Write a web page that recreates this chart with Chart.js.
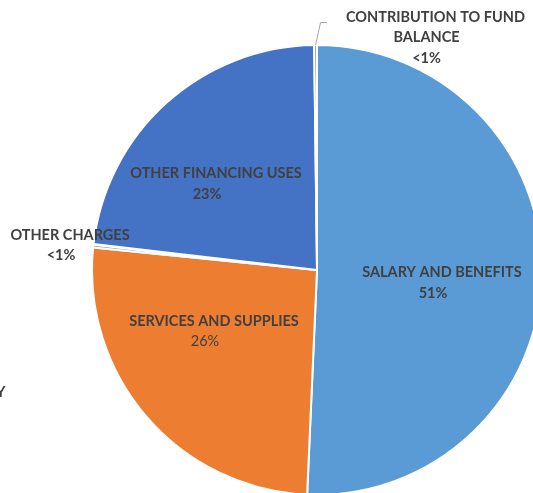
<!DOCTYPE html>
<html>
<head>
<meta charset="utf-8">
<script src="https://cdn.jsdelivr.net/npm/chart.js@4"></script>
<style>
    html, body { margin: 0; padding: 0; background: #fff; overflow: hidden; }
    #wrap { position: relative; width: 533px; height: 493px; }
</style>
</head>
<body>
<div id="wrap"><canvas id="graficoDespesas"></canvas></div>
<script>
// Categorias de despesa e participação (%) no orçamento
const categorias = [
    'SALARY AND BENEFITS',
    'SERVICES AND SUPPLIES',
    'OTHER CHARGES',
    'APPROPRIATION FOR CONTINGENCY',
    'OTHER FINANCING USES',
    'CONTRIBUTION TO FUND BALANCE'
];
const valores = [50.7, 25.9, 0.2, 0.05, 22.95, 0.2];

// Texto dos rótulos, já quebrado em linhas
const rotulos = [
    ['SALARY AND BENEFITS'],
    ['SERVICES AND SUPPLIES'],
    ['OTHER CHARGES'],
    ['APPROPRIATION FOR CONTINGENCY'],
    ['OTHER FINANCING USES'],
    ['CONTRIBUTION TO FUND', 'BALANCE']
];

const cores = ['#5B9BD5', '#ED7D31', '#A5A5A5', '#FFC000', '#4472C4', '#70AD47'];

// Posição de cada rótulo em relação ao centro da pizza
const posRotulos = [
    { dx: 125, dy: 2.5 },
    { dx: -103, dy: 51, pctNormal: true },
    { dx: -247, dy: -35 },
    { dx: -311.5, dy: 122, alinhar: 'right' },
    { dx: -101, dy: -96.5 },
    { dx: 118.5, dy: -253, guia: true }
];

const corTexto = '#404040';
const fonte = 'Lato, "Open Sans", sans-serif';

function textoPct(i) {
    const total = valores.reduce((a, b) => a + b, 0);
    const pct = valores[i] / total * 100;
    return pct < 1 ? '<1%' : Math.round(pct) + '%';
}

// Desenha os rótulos de categoria + percentual
const rotulosPlugin = {
    id: 'rotulos',
    afterDatasetsDraw(chart) {
        const ctx = chart.ctx;
        const arcos = chart.getDatasetMeta(0).data;
        const cx = arcos[0].x;
        const cy = arcos[0].y;
        const alturaLinha = 20.8;

        ctx.save();
        ctx.fillStyle = corTexto;
        ctx.textBaseline = 'middle';

        rotulos.forEach((linhas, i) => {
            const p = posRotulos[i];
            const x = cx + p.dx;
            let y = cy + p.dy;
            ctx.textAlign = p.alinhar || 'center';

            linhas.forEach((linha, j) => {
                ctx.font = 'bold 14.5px ' + fonte;
                ctx.fillText(linha, j === 0 ? x : x - 9, y);
                y += alturaLinha;
            });

            ctx.font = (p.pctNormal ? '' : 'bold ') + '14.5px ' + fonte;
            ctx.fillText(textoPct(i), x - 9, y);

            // Linha guia para a fatia pequena do topo
            if (p.guia) {
                const arco = arcos[i];
                const meio = (arco.startAngle + arco.endAngle) / 2;
                const x0 = cx + Math.cos(meio) * arco.outerRadius;
                const y0 = cy + Math.sin(meio) * arco.outerRadius;
                ctx.beginPath();
                ctx.strokeStyle = '#A6A6A6';
                ctx.lineWidth = 1;
                ctx.moveTo(x0, y0);
                ctx.lineTo(cx + 3.5, cy - 247.5);
                ctx.lineTo(cx + 10, cy - 247.5);
                ctx.stroke();
            }
        });
        ctx.restore();
    }
};

new Chart(document.getElementById('graficoDespesas').getContext('2d'), {
    type: 'pie',
    data: {
        labels: categorias,
        datasets: [{
            data: valores,
            backgroundColor: cores,
            borderColor: '#FFFFFF',
            borderWidth: 2,
            radius: 225,
            clip: false
        }]
    },
    options: {
        responsive: true,
        maintainAspectRatio: false,
        animation: false,
        layout: { padding: { left: 101, top: 47, right: 0, bottom: 0 } },
        plugins: {
            legend: { display: false },
            tooltip: { enabled: false }
        }
    },
    plugins: [rotulosPlugin]
});
</script>
</body>
</html>
